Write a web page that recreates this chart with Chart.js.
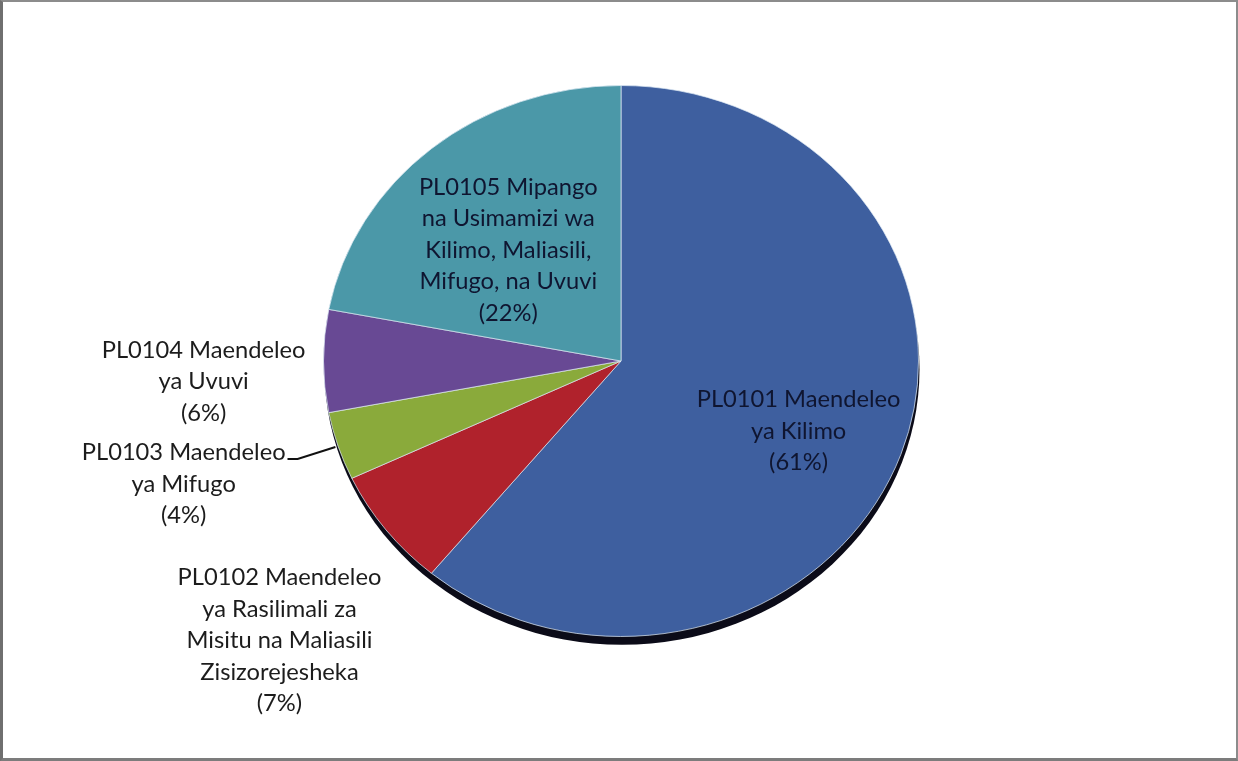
<!DOCTYPE html>
<html>
<head>
<meta charset="utf-8">
<script src="https://cdn.jsdelivr.net/npm/chart.js@4.4.0/dist/chart.umd.min.js"></script>
<style>
html, body { margin: 0; padding: 0; background: #fff; }
#pie { position: absolute; left: 0; top: 0; }
#frame {
    position: absolute; left: 0; top: 0; width: 1238px; height: 761px;
    box-sizing: border-box;
    border: 2px solid #8c8c8c;
    border-left: 3px solid #6f6f6f;
    border-bottom: 3px solid #7c7c7c;
    pointer-events: none;
}
</style>
</head>
<body>
<canvas id="pie" width="1238" height="761"></canvas>
<div id="frame"></div>
<script>
// data
const codes = ['PL0101', 'PL0102', 'PL0103', 'PL0104', 'PL0105'];
const labelLines = [
    ['PL0101 Maendeleo', 'ya Kilimo'],
    ['PL0102 Maendeleo', 'ya Rasilimali za', 'Misitu na Maliasili', 'Zisizorejesheka'],
    ['PL0103 Maendeleo', 'ya Mifugo'],
    ['PL0104 Maendeleo', 'ya Uvuvi'],
    ['PL0105 Mipango', 'na Usimamizi wa', 'Kilimo, Maliasili,', 'Mifugo, na Uvuvi']
];
const shares = [61, 7, 4, 6, 22];
const colors = ['#3e5f9f', '#b0222c', '#8aaa3b', '#684994', '#4b98a8'];

// label placement, in units of the pie radius from its centre
const labelOffsets = [[0.597, 0.235], [-1.148, 0.940], [-1.470, 0.413], [-1.403, 0.070], [-0.379, -0.372]];
const leader = [[-1.121, 0.329], [-1.087, 0.329], [-0.960, 0.289]];   // PL0103
const squash = 0.926;
const lineGap = 31.5;
let fontSize = 24;

const ellipse = {
    id: 'ellipse',
    beforeDatasetsDraw(chart) {
        const arc = chart.getDatasetMeta(0).data[0];
        const ctx = chart.ctx;
        ctx.save();
        ctx.translate(arc.x, arc.y);
        ctx.scale(1, squash);
        ctx.translate(-arc.x, -arc.y);
        // dark rim under the pie
        ctx.beginPath();
        ctx.arc(arc.x + 1, arc.y + 9, arc.outerRadius, 0, Math.PI * 2);
        ctx.fillStyle = '#0b0b18';
        ctx.fill();
    },
    afterDatasetsDraw(chart) {
        chart.ctx.restore();
    }
};

const labels = {
    id: 'labels',
    afterDraw(chart) {
        const arc = chart.getDatasetMeta(0).data[0];
        const ctx = chart.ctx;
        const cx = arc.x, cy = arc.y, R = arc.outerRadius;
        ctx.save();
        ctx.font = fontSize + 'px Lato';
        ctx.textAlign = 'center';
        ctx.textBaseline = 'middle';
        labelLines.forEach((lines, i) => {
            const all = [...lines, '(' + shares[i] + '%)'];
            const x = cx + labelOffsets[i][0] * R;
            const yMid = cy + labelOffsets[i][1] * R;
            const y0 = yMid - (all.length - 1) / 2 * lineGap;
            ctx.fillStyle = (i === 0 || i === 4) ? '#0f1530' : '#1c1c1c';
            all.forEach((t, j) => ctx.fillText(t, x, y0 + j * lineGap));
        });
        ctx.beginPath();
        leader.forEach((p, k) => {
            const px = cx + p[0] * R, py = cy + p[1] * R;
            if (k === 0) ctx.moveTo(px, py); else ctx.lineTo(px, py);
        });
        ctx.strokeStyle = '#111';
        ctx.lineWidth = 2;
        ctx.stroke();
        ctx.restore();
    }
};

function draw() {
    const c = document.getElementById('pie');
    const m = c.getContext('2d');
    m.font = '20px Lato';
    fontSize = 20 * 204 / m.measureText('PL0101 Maendeleo').width;

    new Chart(c, {
        type: 'pie',
        data: {
            labels: codes,
            datasets: [{
                data: shares,
                backgroundColor: colors,
                borderColor: 'rgba(225,235,245,0.75)',
                borderWidth: 1
            }]
        },
        options: {
            responsive: false,
            animation: false,
            layout: { padding: { left: 323, right: 319, top: 63, bottom: 102 } },
            plugins: {
                legend: { display: false },
                tooltip: { enabled: false }
            }
        },
        plugins: [ellipse, labels]
    });
}

document.fonts.load('24px Lato').then(draw, draw);
</script>
</body>
</html>
